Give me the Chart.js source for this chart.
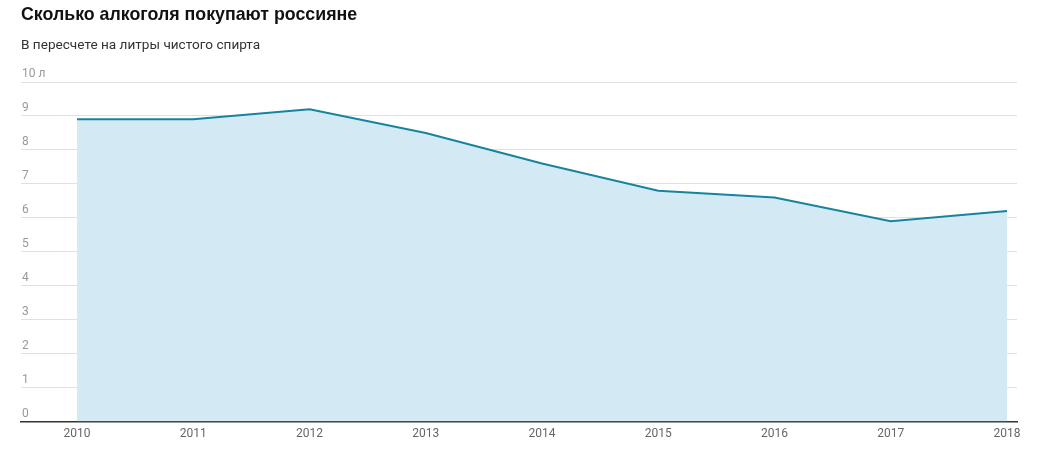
<!DOCTYPE html>
<html lang="ru">
<head>
  <meta charset="UTF-8">
  <title>Сколько алкоголя покупают россияне</title>
  <script src="https://cdn.jsdelivr.net/npm/chart.js"></script>
  <style>
    body {
      margin: 0;
      background: #fff;
      font-family: Roboto, Arial, sans-serif;
    }
    .wrap {
      position: relative;
      width: 1039px;
      height: 449px;
    }
    h1 {
      position: absolute;
      left: 21px;
      top: 4px;
      margin: 0;
      font-family: "Liberation Sans", Arial, sans-serif;
      font-size: 17.8px;
      font-weight: bold;
      color: #111;
    }
    .sub {
      position: absolute;
      left: 21px;
      top: 36px;
      margin: 0;
      font-size: 13.6px;
      color: #333;
    }
    canvas {
      position: absolute;
      left: 0;
      top: 0;
    }
  </style>
</head>
<body>
  <div class="wrap">
    <canvas id="grafico" width="1039" height="449"></canvas>
    <h1>Сколько алкоголя покупают россияне</h1>
    <p class="sub">В пересчете на литры чистого спирта</p>
  </div>

<script>
  // данные
  const anos = [2010, 2011, 2012, 2013, 2014, 2015, 2016, 2017, 2018];
  const litros = [8.9, 8.9, 9.2, 8.5, 7.6, 6.8, 6.6, 5.9, 6.2];
  const ticksY = [0, 1, 2, 3, 4, 5, 6, 7, 8, 9, 10];
  const rotulosY = ['0', '1', '2', '3', '4', '5', '6', '7', '8', '9', '10 л'];

  // подписи оси Y над линиями сетки
  const rotulosPlugin = {
    id: 'rotulosY',
    afterDraw(chart) {
      const c = chart.ctx;
      const y = chart.scales.y;
      c.save();
      c.font = '12px Roboto, Arial, sans-serif';
      c.fillStyle = '#999';
      c.textAlign = 'left';
      c.textBaseline = 'alphabetic';
      ticksY.forEach((v, i) => {
        c.fillText(rotulosY[i], 22, y.getPixelForValue(v) - 5);
      });
      c.restore();
    }
  };

  const ctx = document.getElementById('grafico').getContext('2d');
  const grafico = new Chart(ctx, {
    type: 'line',
    data: {
      datasets: [{
        data: anos.map((a, i) => ({ x: a, y: litros[i] })),
        borderColor: '#17849f',
        borderWidth: 2,
        backgroundColor: '#d3eaf4',
        fill: 'origin',
        pointRadius: 0,
        tension: 0
      }]
    },
    options: {
      responsive: false,
      animation: false,
      layout: {
        padding: { top: 82, left: 21, right: 22, bottom: 3 }
      },
      plugins: {
        legend: { display: false },
        tooltip: { enabled: false }
      },
      scales: {
        x: {
          type: 'linear',
          min: 2009.518,
          max: 2018.086,
          afterBuildTicks: s => { s.ticks = anos.map(v => ({ value: v })); },
          grid: { display: false, drawTicks: false },
          border: { display: true, color: '#333', width: 1.5 },
          ticks: {
            color: '#666',
            padding: 5,
            font: { size: 12, family: 'Roboto, Arial, sans-serif' },
            maxRotation: 0,
            autoSkip: false,
            callback: v => String(v)
          }
        },
        y: {
          min: 0,
          max: 10,
          z: 1,
          afterBuildTicks: s => { s.ticks = ticksY.map(v => ({ value: v })); },
          grid: { color: 'rgba(0,0,0,0.12)', lineWidth: 1, drawTicks: false },
          border: { display: false },
          ticks: { display: false }
        }
      }
    },
    plugins: [rotulosPlugin]
  });
</script>
</body>
</html>
